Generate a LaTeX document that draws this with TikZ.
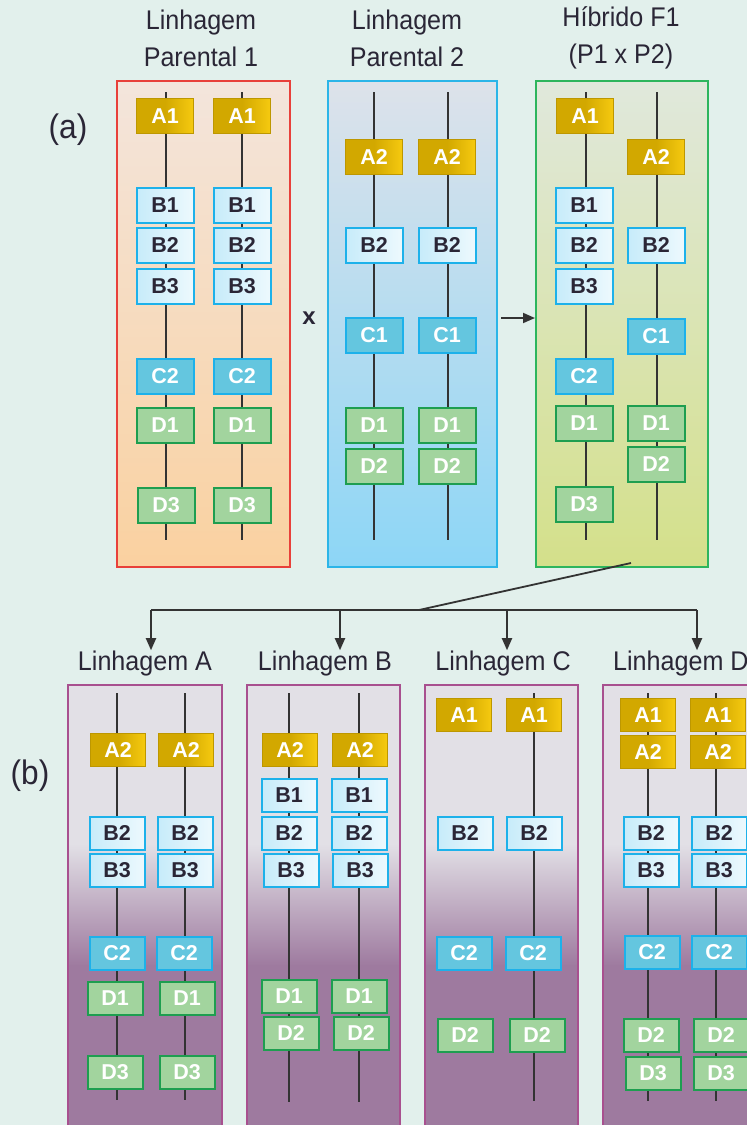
\documentclass[tikz,border=0pt]{standalone}
\usepackage{fontspec}
\setmainfont{Liberation Sans}
\newfontfamily\condfont{Liberation Sans}[FakeStretch=0.93]
\usetikzlibrary{arrows.meta}
\definecolor{bgc}{HTML}{E2F0EC}
\definecolor{txt}{HTML}{2A2636}
\definecolor{gold}{HTML}{D2A800}
\definecolor{goldhi}{HTML}{F6CA10}
\definecolor{cyanb}{HTML}{1DB1EA}
\definecolor{cfill}{HTML}{64C6DF}
\definecolor{dfill}{HTML}{A2D49E}
\definecolor{dline}{HTML}{1E9E50}
\definecolor{redb}{HTML}{E8403A}
\definecolor{blueb}{HTML}{2BB5E8}
\definecolor{greenb}{HTML}{2DB55D}
\definecolor{purb}{HTML}{A8508F}
\definecolor{plight}{HTML}{E2E0E6}
\definecolor{pdark}{HTML}{9E7A9F}
\definecolor{chromc}{HTML}{333333}
\definecolor{p1top}{HTML}{F3E5DC}
\definecolor{p1bot}{HTML}{FAD1A0}
\definecolor{p2top}{HTML}{DDE2EA}
\definecolor{p2bot}{HTML}{8DD6F6}
\definecolor{f1top}{HTML}{E0E8DC}
\definecolor{f1bot}{HTML}{D4E08A}
\tikzset{
  gene/.style={minimum width=57pt, minimum height=35pt, inner sep=0pt, font=\fontsize{21.5}{21.5}\selectfont\bfseries},
  small/.style={minimum width=55pt, minimum height=33pt},
  genA/.style={gene, draw=gold!90!black, line width=0.6pt, left color=gold, right color=goldhi, middle color=gold, text=white},
  genB/.style={gene, draw=cyanb, line width=2pt, left color=cyanb!25!white, right color=white!92!cyanb, text=txt},
  genC/.style={gene, draw=cyanb, line width=2pt, fill=cfill, text=white},
  genD/.style={gene, draw=dline, line width=2pt, fill=dfill, text=white},
  chrom/.style={draw=chromc, line width=1.5pt},
  title/.style={align=center, text=txt, inner sep=0pt, font=\condfont\fontsize{27}{37}\selectfont},
  conn/.style={draw=chromc, line width=1.8pt},
  arr/.style={conn, -{Triangle[length=12pt,width=10pt]}}
}
\newcommand\G[5]{\node[#1] (#2) at (#3,#4) {#5};}
\newcommand\Chr[4]{\coordinate (#1t) at (#2,#3); \coordinate (#1b) at (#2,#4); \draw[chrom] (#1t) -- (#1b);}
\newcommand\PBox[2]{%
  \fill[plight] (#1,685) rectangle (#2,845);
  \shade[top color=plight, bottom color=pdark] (#1,844) rectangle (#2,966);
  \fill[pdark] (#1,965) rectangle (#2,1130);
  \draw[purb, line width=1.5pt] (#1,1130) -- (#1,685) -- (#2,685) -- (#2,1130);}
\begin{document}
\begin{tikzpicture}[x=1pt,y=-1pt]
\useasboundingbox (0,0) rectangle (747,1125);
\clip (0,0) rectangle (747,1125);
\fill[bgc] (0,0) rectangle (747,1125);

% ---------------- panel (a)
\node[title] (t1) at (201,38) {Linhagem\\Parental 1};
\node[title] (t2) at (407,38) {Linhagem\\Parental 2};
\node[title] (t3) at (621,38) {Híbrido F1\\(P1 x P2)};
\node[font=\condfont\fontsize{34}{34}\selectfont, text=txt] (la) at (68,130) {(a)};
\node[font=\condfont\fontsize{34}{34}\selectfont, text=txt] (lb) at (30,776) {(b)};

\draw[redb, line width=1.5pt, top color=p1top, bottom color=p1bot] (117,81) rectangle (290,567);
\draw[blueb, line width=1.5pt, top color=p2top, bottom color=p2bot] (328,81) rectangle (497,567);
\draw[greenb, line width=1.5pt, top color=f1top, bottom color=f1bot] (536,81) rectangle (708,567);

\Chr{p1l}{166}{92}{540}
\Chr{p1r}{242}{92}{540}
\Chr{p2l}{374}{92}{540}
\Chr{p2r}{448}{92}{540}
\Chr{fl}{586}{92}{540}
\Chr{fr}{657}{92}{540}

% parental 1
\G{genA}{p1lA1}{165}{116}{A1} \G{genA}{p1rA1}{242}{116}{A1}
\G{genB}{p1lB1}{165}{205}{B1} \G{genB}{p1rB1}{242}{205}{B1}
\G{genB}{p1lB2}{165}{245}{B2} \G{genB}{p1rB2}{242}{245}{B2}
\G{genB}{p1lB3}{165}{286}{B3} \G{genB}{p1rB3}{242}{286}{B3}
\G{genC}{p1lC2}{165}{376}{C2} \G{genC}{p1rC2}{242}{376}{C2}
\G{genD}{p1lD1}{165}{425}{D1} \G{genD}{p1rD1}{242}{425}{D1}
\G{genD}{p1lD3}{166}{505}{D3} \G{genD}{p1rD3}{242}{505}{D3}
% parental 2
\G{genA}{p2lA2}{374}{157}{A2} \G{genA}{p2rA2}{447}{157}{A2}
\G{genB}{p2lB2}{374}{245}{B2} \G{genB}{p2rB2}{447}{245}{B2}
\G{genC}{p2lC1}{374}{335}{C1} \G{genC}{p2rC1}{447}{335}{C1}
\G{genD}{p2lD1}{374}{425}{D1} \G{genD}{p2rD1}{447}{425}{D1}
\G{genD}{p2lD2}{374}{466}{D2} \G{genD}{p2rD2}{447}{466}{D2}
% F1
\G{genA}{flA1}{585}{116}{A1} \G{genA}{frA2}{656}{157}{A2}
\G{genB}{flB1}{584}{205}{B1}
\G{genB}{flB2}{584}{245}{B2} \G{genB}{frB2}{656}{245}{B2}
\G{genB}{flB3}{584}{286}{B3}
\G{genC}{frC1}{656}{336}{C1}
\G{genC}{flC2}{584}{376}{C2}
\G{genD}{flD1}{584}{423}{D1} \G{genD}{frD1}{656}{423}{D1}
\G{genD}{frD2}{656}{464}{D2}
\G{genD}{flD3}{584}{504}{D3}

\node[text=txt, font=\fontsize{24}{24}\selectfont\bfseries] (cross) at (309,318) {x};
\coordinate (arrS) at (501,318);
\coordinate (arrE) at (535,318);
\draw[arr] (arrS) -- (arrE);

% ---------------- tree
\coordinate (src) at (631,563);
\coordinate (split) at (419,610);
\coordinate (jA) at (151,610);
\coordinate (jB) at (340,610);
\coordinate (jC) at (507,610);
\coordinate (jD) at (697,610);
\node[title, anchor=base] (tA) at (145,670) {Linhagem A};
\node[title, anchor=base] (tB) at (325,670) {Linhagem B};
\node[title, anchor=base] (tC) at (503,670) {Linhagem C};
\node[title, anchor=base west] (tD) at (613,670) {Linhagem D};
\draw[conn] (src) -- (split);
\draw[conn] (jA) -- (jD);
\draw[arr] (jA) -- (jA |- tA.north);
\draw[arr] (jB) -- (jB |- tB.north);
\draw[arr] (jC) -- (jC |- tC.north);
\draw[arr] (jD) -- (jD |- tD.north);

% ---------------- panel (b)
\PBox{68}{222}
\PBox{247}{400}
\PBox{425}{578}
\PBox{603}{760}

\Chr{al}{117}{693}{1100}
\Chr{ar}{185}{693}{1100}
\Chr{bl}{289}{693}{1102}
\Chr{br}{359}{693}{1102}
\Chr{cr}{534}{693}{1101}
\Chr{dl}{648}{693}{1101}
\Chr{dr}{716}{693}{1101}

% A
\G{genA,small}{aA2l}{118}{750}{A2} \G{genA,small}{aA2r}{186}{750}{A2}
\G{genB,small}{aB2l}{117}{833}{B2} \G{genB,small}{aB2r}{185}{833}{B2}
\G{genB,small}{aB3l}{117}{870}{B3} \G{genB,small}{aB3r}{185}{870}{B3}
\G{genC,small}{aC2l}{117}{953}{C2} \G{genC,small}{aC2r}{184}{953}{C2}
\G{genD,small}{aD1l}{115}{998}{D1} \G{genD,small}{aD1r}{187}{998}{D1}
\G{genD,small}{aD3l}{115}{1072}{D3} \G{genD,small}{aD3r}{187}{1072}{D3}
% B
\G{genA,small}{bA2l}{290}{750}{A2} \G{genA,small}{bA2r}{360}{750}{A2}
\G{genB,small}{bB1l}{289}{795}{B1} \G{genB,small}{bB1r}{359}{795}{B1}
\G{genB,small}{bB2l}{289}{833}{B2} \G{genB,small}{bB2r}{359}{833}{B2}
\G{genB,small}{bB3l}{291}{870}{B3} \G{genB,small}{bB3r}{360}{870}{B3}
\G{genD,small}{bD1l}{289}{996}{D1} \G{genD,small}{bD1r}{359}{996}{D1}
\G{genD,small}{bD2l}{291}{1033}{D2} \G{genD,small}{bD2r}{361}{1033}{D2}
% C
\G{genA,small}{cA1l}{464}{715}{A1} \G{genA,small}{cA1r}{534}{715}{A1}
\G{genB,small}{cB2l}{465}{833}{B2} \G{genB,small}{cB2r}{534}{833}{B2}
\G{genC,small}{cC2l}{464}{953}{C2} \G{genC,small}{cC2r}{533}{953}{C2}
\G{genD,small}{cD2l}{465}{1035}{D2} \G{genD,small}{cD2r}{537}{1035}{D2}
% D
\G{genA,small}{dA1l}{648}{715}{A1} \G{genA,small}{dA1r}{718}{715}{A1}
\G{genA,small}{dA2l}{648}{752}{A2} \G{genA,small}{dA2r}{718}{752}{A2}
\G{genB,small}{dB2l}{651}{833}{B2} \G{genB,small}{dB2r}{719}{833}{B2}
\G{genB,small}{dB3l}{651}{870}{B3} \G{genB,small}{dB3r}{719}{870}{B3}
\G{genC,small}{dC2l}{652}{952}{C2} \G{genC,small}{dC2r}{719}{952}{C2}
\G{genD,small}{dD2l}{651}{1035}{D2} \G{genD,small}{dD2r}{721}{1035}{D2}
\G{genD,small}{dD3l}{653}{1073}{D3} \G{genD,small}{dD3r}{721}{1073}{D3}
\end{tikzpicture}
\end{document}
